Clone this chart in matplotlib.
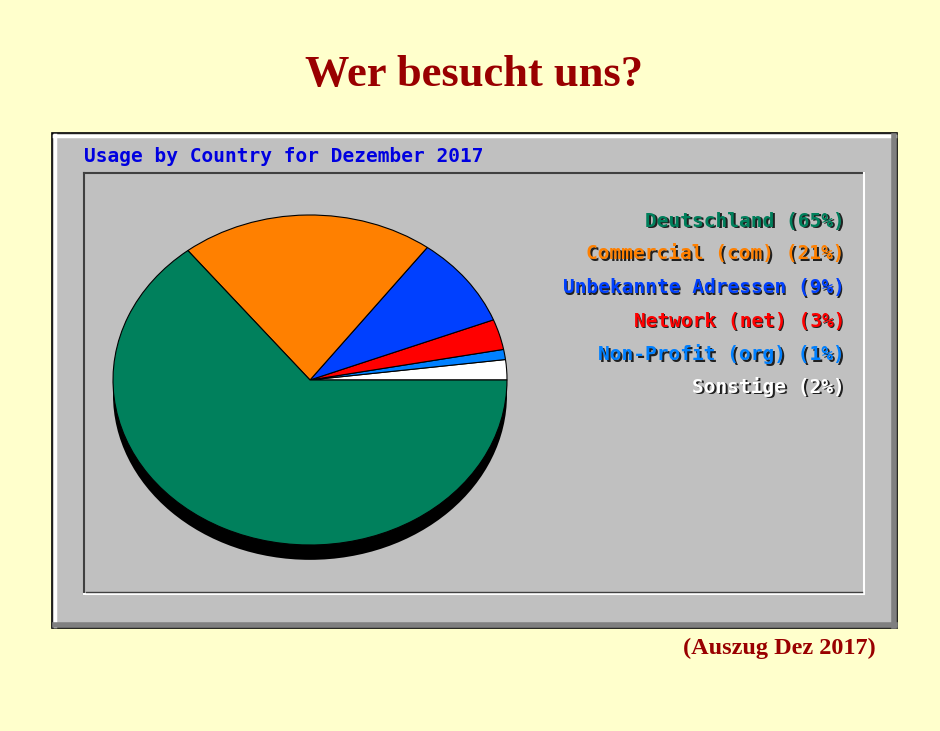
import matplotlib
matplotlib.use("Agg")
from matplotlib import pyplot as plt
from matplotlib.patches import Rectangle, Ellipse

# Daten aus dem Bild (Webalizer, Dezember 2017)
labels = ['Sonstige (2%)', 'Non-Profit (org) (1%)', 'Network (net) (3%)',
          'Unbekannte Adressen (9%)', 'Commercial (com) (21%)', 'Deutschland (65%)']
values = [2, 1, 3, 9, 21, 65]
colors = ['#ffffff', '#0080ff', '#ff0000', '#0040ff', '#ff8000', '#00805c']

W, H = 940, 731
fig = plt.figure(figsize=(W / 100, H / 100), dpi=100)
fig.patch.set_facecolor('#ffffcc')

# Hintergrund-Achse in Pixelkoordinaten
bg = fig.add_axes([0, 0, 1, 1])
bg.set_xlim(0, W)
bg.set_ylim(H, 0)
bg.axis('off')

# aeusserer grauer Rahmen mit Relief
bg.add_patch(Rectangle((52, 133), 845, 495, facecolor='#c0c0c0', edgecolor='black', lw=1.2))
bg.plot([54, 895], [135.5, 135.5], color='white', lw=2.5)
bg.plot([54.5, 54.5], [135, 626], color='white', lw=2.5)
bg.plot([55, 895], [624.5, 624.5], color='#808080', lw=4)
bg.plot([893.5, 893.5], [136, 626], color='#808080', lw=4)

# innerer Rahmen (vertieft)
bg.add_patch(Rectangle((84, 173), 780, 421, facecolor='#c0c0c0', edgecolor='none'))
bg.plot([84, 864], [173, 173], color='#404040', lw=1.5)
bg.plot([84, 84], [173, 594], color='#404040', lw=1.5)
bg.plot([84, 864], [594, 594], color='white', lw=1.5)
bg.plot([864, 864], [173, 594], color='white', lw=1.5)
bg.plot([86, 862], [592, 592], color='#404040', lw=1)

# Ueberschriften
bg.text(474, 75, 'Wer besucht uns?', ha='center', va='center', fontsize=32,
        family='Liberation Serif', weight='bold', color='#990000')
bg.text(779, 648, '(Auszug Dez 2017)', ha='center', va='center', fontsize=17.5,
        family='Liberation Serif', weight='bold', color='#990000')
bg.text(84, 157, 'Usage by Country for Dezember 2017', ha='left', va='center',
        fontsize=14, family='DejaVu Sans Mono', weight='bold', color='#0000e0')

# Legende rechts, mit Schatten
ys = [221, 254, 288, 321, 354, 387]
for lab, col, y in zip(labels[::-1], colors[::-1], ys):
    bg.text(846.5, y + 1.5, lab, ha='right', va='center', fontsize=14,
            family='DejaVu Sans Mono', weight='bold', color='#202020')
    bg.text(845, y, lab, ha='right', va='center', fontsize=14,
            family='DejaVu Sans Mono', weight='bold', color=col)

# Tortendiagramm (elliptisch)
left, right, top, bottom = 113, 507, 215, 545
ax = fig.add_axes([left / W, (H - bottom) / H, (right - left) / W, (bottom - top) / H])
ax.add_patch(Ellipse((0, -0.09), 2, 2, facecolor='black', edgecolor='none',
                     zorder=0, clip_on=False))
ax.pie(values, colors=colors, startangle=0, counterclock=True,
       wedgeprops=dict(edgecolor='black', linewidth=0.8))
ax.set_aspect('auto')
ax.set_xlim(-1, 1)
ax.set_ylim(-1, 1)
ax.axis('off')

fig.savefig('out.png', dpi=100, facecolor=fig.get_facecolor())
